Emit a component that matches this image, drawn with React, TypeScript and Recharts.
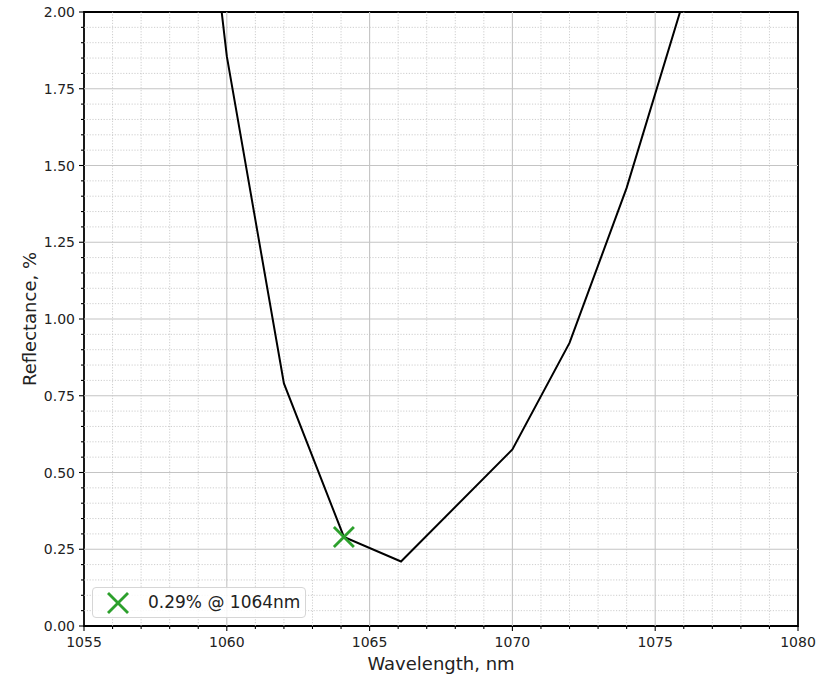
import {
  ComposedChart,
  Line,
  Scatter,
  XAxis,
  YAxis,
  ReferenceLine,
  ReferenceArea,
  Label,
} from "recharts";

const wavelengths = [1058, 1060, 1062, 1064.1, 1066.1, 1070, 1072, 1074, 1076];
const reflectance = [3.46, 1.856, 0.79, 0.29, 0.21, 0.575, 0.922, 1.427, 2.04];

const markerPoint = [{ x: 1064.1, y: 0.29 }];
const legendLabel = "0.29% @ 1064nm";

const xMajorTicks = [1055, 1060, 1065, 1070, 1075, 1080];
const xMinorTicks = [
  1056, 1057, 1058, 1059, 1061, 1062, 1063, 1064, 1066, 1067, 1068, 1069, 1071,
  1072, 1073, 1074, 1076, 1077, 1078, 1079,
];
const yMajorTicks = [0, 0.25, 0.5, 0.75, 1, 1.25, 1.5, 1.75, 2];
const yMinorTicks = [
  0.05, 0.1, 0.15, 0.2, 0.3, 0.35, 0.4, 0.45, 0.55, 0.6, 0.65, 0.7, 0.8, 0.85,
  0.9, 0.95, 1.05, 1.1, 1.15, 1.2, 1.3, 1.35, 1.4, 1.45, 1.55, 1.6, 1.65, 1.7,
  1.8, 1.85, 1.9, 1.95,
];

const data = wavelengths.map((x, i) => ({ x, y: reflectance[i] }));

const FONT = "'DejaVu Sans', sans-serif";
const GREEN = "#2ca02c";

const allX = [...xMajorTicks, ...xMinorTicks].sort((a, b) => a - b);
const allY = [...yMajorTicks, ...yMinorTicks].sort((a, b) => a - b);

function XTick(props: any) {
  const { x, y, payload } = props;
  const major = xMajorTicks.includes(payload.value);
  return (
    <g>
      <line x1={x} x2={x} y1={y} y2={y + (major ? 5 : 3)} stroke="#000" strokeWidth={1.1} />
      {major && (
        <text x={x} y={y + 21} textAnchor="middle" fontSize={14} fill="#222" fontFamily={FONT}>
          {payload.value}
        </text>
      )}
    </g>
  );
}

function YTick(props: any) {
  const { x, y, payload } = props;
  const major = yMajorTicks.includes(payload.value);
  return (
    <g>
      <line x1={x - (major ? 5 : 3)} x2={x} y1={y} y2={y} stroke="#000" strokeWidth={1.1} />
      {major && (
        <text x={x - 9} y={y + 5} textAnchor="end" fontSize={14} fill="#222" fontFamily={FONT}>
          {payload.value.toFixed(2)}
        </text>
      )}
    </g>
  );
}

function Cross(props: any) {
  const { cx, cy } = props;
  const r = 10;
  return (
    <g stroke={GREEN} strokeWidth={2.8}>
      <line x1={cx - r} y1={cy - r} x2={cx + r} y2={cy + r} />
      <line x1={cx - r} y1={cy + r} x2={cx + r} y2={cy - r} />
    </g>
  );
}

export default function App() {
  return (
    <div style={{ position: "absolute", left: 0, top: 0, width: 820, height: 677, background: "#fff" }}>
      <ComposedChart
        width={820}
        height={677}
        data={data}
        margin={{ top: 12, right: 22, bottom: 0, left: 0 }}
      >
        {xMinorTicks.map((v) => (
          <ReferenceLine key={`xm${v}`} x={v} stroke="#c2c2c2" strokeWidth={0.8} strokeDasharray="1.2 1.6" />
        ))}
        {yMinorTicks.map((v) => (
          <ReferenceLine key={`ym${v}`} y={v} stroke="#c2c2c2" strokeWidth={0.8} strokeDasharray="1.2 1.6" />
        ))}
        {xMajorTicks.slice(1, -1).map((v) => (
          <ReferenceLine key={`xM${v}`} x={v} stroke="#c4c4c4" strokeWidth={1.1} />
        ))}
        {yMajorTicks.slice(1, -1).map((v) => (
          <ReferenceLine key={`yM${v}`} y={v} stroke="#c4c4c4" strokeWidth={1.1} />
        ))}
        <XAxis
          dataKey="x"
          type="number"
          domain={[1055, 1080]}
          ticks={allX}
          interval={0}
          allowDataOverflow
          height={51}
          tickSize={0}
          tickMargin={0}
          tickLine={false}
          axisLine={false}
          tick={<XTick />}
        >
          <Label
            value="Wavelength, nm"
            position="insideBottom"
            offset={7}
            style={{ fontSize: 18, fontFamily: FONT, fill: "#222" }}
          />
        </XAxis>
        <YAxis
          type="number"
          domain={[0, 2]}
          ticks={allY}
          interval={0}
          allowDataOverflow
          width={84}
          tickSize={0}
          tickMargin={0}
          tickLine={false}
          axisLine={false}
          tick={<YTick />}
        >
          <Label
            content={() => (
              <text
                x={36}
                y={319}
                transform="rotate(-90 36 319)"
                textAnchor="middle"
                fontSize={18}
                fontFamily={FONT}
                fill="#222"
              >
                Reflectance, %
              </text>
            )}
          />
        </YAxis>
        <Line
          dataKey="y"
          type="linear"
          stroke="#000"
          strokeWidth={2}
          dot={false}
          isAnimationActive={false}
        />
        <Scatter data={markerPoint} dataKey="y" shape={<Cross />} isAnimationActive={false} />
        <ReferenceArea x1={1055} x2={1080} y1={0} y2={2} fill="none" stroke="#000" strokeWidth={1.8} />
      </ComposedChart>
      <div
        style={{
          position: "absolute",
          left: 92,
          top: 587,
          width: 214,
          height: 31,
          border: "1px solid #d6d6d6",
          borderRadius: 4,
          background: "rgba(255,255,255,0.85)",
          boxSizing: "border-box",
          fontFamily: FONT,
          fontSize: 17,
          color: "#222",
        }}
      >
        <svg width={30} height={30} style={{ position: "absolute", left: 10, top: 0 }}>
          <g stroke={GREEN} strokeWidth={2.8}>
            <line x1={5} y1={5} x2={25} y2={25} />
            <line x1={5} y1={25} x2={25} y2={5} />
          </g>
        </svg>
        <span style={{ position: "absolute", left: 55, top: 4, whiteSpace: "nowrap", lineHeight: "20px" }}>
          {legendLabel}
        </span>
      </div>
    </div>
  );
}
